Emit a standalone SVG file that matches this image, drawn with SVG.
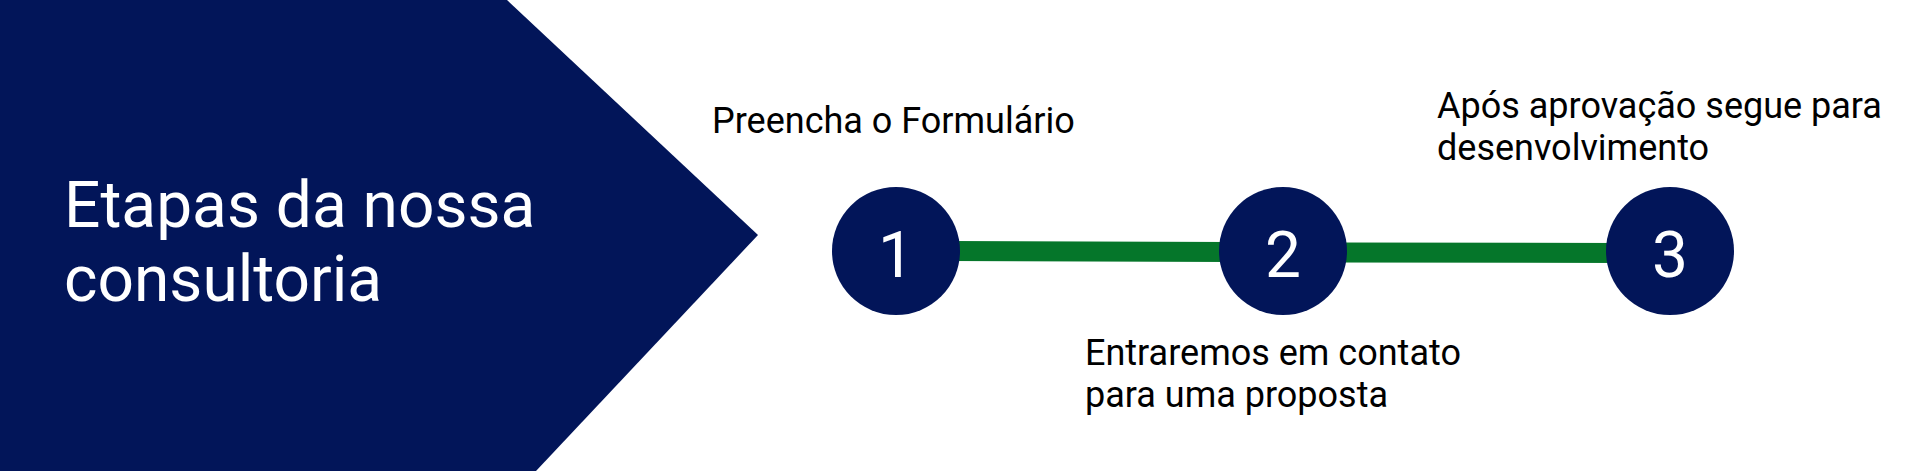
<svg xmlns="http://www.w3.org/2000/svg" width="1920" height="471" viewBox="0 0 1920 471">
<style>
.navy{fill:#021559}
.title{font-family:Roboto,"Liberation Sans",sans-serif;font-size:64px;fill:#ffffff}
.num{font-family:Roboto,"Liberation Sans",sans-serif;font-size:64px;fill:#ffffff;text-anchor:middle}
.lbl{font-family:Roboto,"Liberation Sans",sans-serif;font-size:36px;fill:#000000}
.conn{stroke:#05762a;stroke-width:20;fill:none}
</style>
<rect x="0" y="0" width="1920" height="471" fill="#ffffff"/>
<g id="title-chevron">
<polygon class="navy" points="0,0 507,0 758,235 536,471 0,471"/>
<text class="title" x="64" y="227">Etapas da nossa</text>
<text class="title" x="64" y="301">consultoria</text>
</g>
<g id="connectors">
<line class="conn" x1="950" y1="251" x2="1230" y2="252"/>
<line class="conn" x1="1335" y1="252.5" x2="1620" y2="253"/>
</g>
<g id="step1">
<circle class="navy" cx="896" cy="251" r="64"/>
<text class="num" x="896" y="277">1</text>
<text class="lbl" x="712" y="133">Preencha o Formulário</text>
</g>
<g id="step2">
<circle class="navy" cx="1283" cy="251" r="64"/>
<text class="num" x="1283" y="277">2</text>
<text class="lbl" x="1085" y="365">Entraremos em contato</text>
<text class="lbl" x="1085" y="407">para uma proposta</text>
</g>
<g id="step3">
<circle class="navy" cx="1670" cy="251" r="64"/>
<text class="num" x="1670" y="277">3</text>
<text class="lbl" x="1437" y="118">Após aprovação segue para</text>
<text class="lbl" x="1437" y="160">desenvolvimento</text>
</g>
</svg>
